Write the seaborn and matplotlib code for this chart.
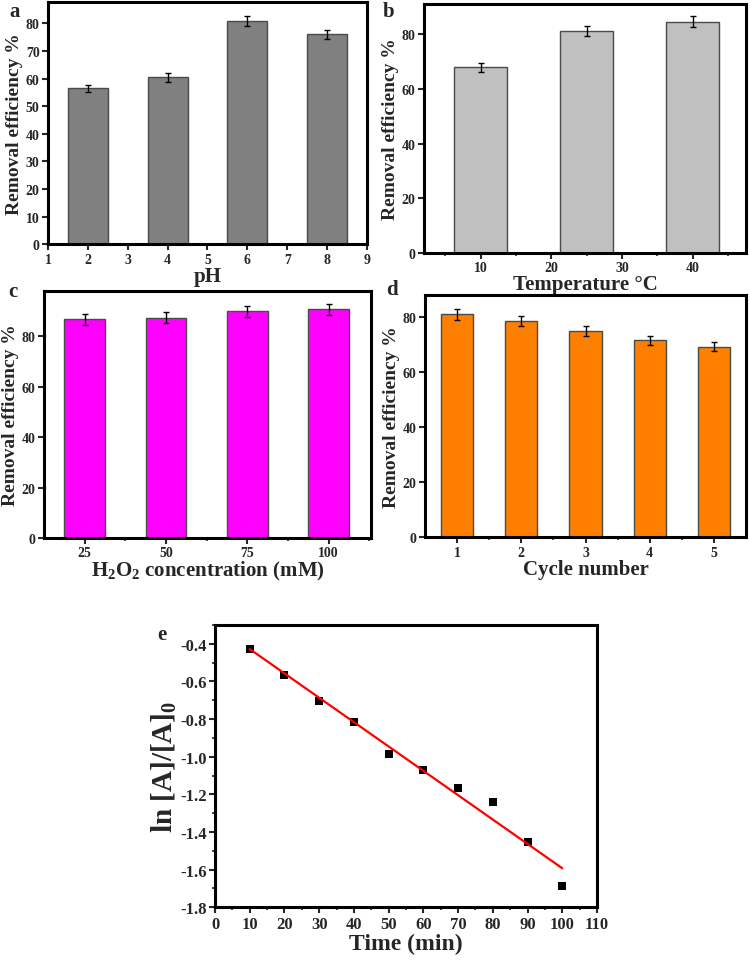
import matplotlib
matplotlib.use("Agg")
import matplotlib.pyplot as plt
import seaborn as sns
from matplotlib.ticker import MultipleLocator, FixedLocator, FormatStrFormatter

# panel a: pH
ph = [2, 4, 6, 8]
ph_eff = [56.4, 60.4, 80.9, 76.0]
ph_err = [1.4, 1.5, 1.9, 1.7]

# panel b: temperature
temp = [10, 25, 40]
temp_eff = [67.8, 81.2, 84.6]
temp_err = [1.8, 1.8, 1.9]

# panel c: H2O2 concentration
h2o2 = [25, 50, 75, 100]
h2o2_eff = [86.6, 87.3, 89.8, 90.7]
h2o2_err = [2.2, 2.2, 2.2, 2.2]

# panel d: reuse cycles
cycle = [1, 2, 3, 4, 5]
cycle_eff = [80.9, 78.5, 75.0, 71.5, 69.2]
cycle_err = [1.9, 1.8, 1.8, 1.7, 1.7]

# panel e: kinetics
time_min = [10, 20, 30, 40, 50, 60, 70, 80, 90, 100]
ln_ratio = [-0.427, -0.565, -0.702, -0.817, -0.983, -1.068, -1.164, -1.239, -1.453, -1.685]

sns.set_style("ticks")
plt.rcParams["font.family"] = ["Liberation Serif", "DejaVu Serif"]
plt.rcParams["font.weight"] = "bold"
plt.rcParams["axes.labelweight"] = "bold"
plt.rcParams["axes.unicode_minus"] = False
plt.rcParams["mathtext.fontset"] = "custom"
plt.rcParams["mathtext.rm"] = "Liberation Serif:bold"
plt.rcParams["mathtext.it"] = "Liberation Serif:bold"
plt.rcParams["mathtext.bf"] = "Liberation Serif:bold"

fig = plt.figure(figsize=(7.5, 9.62), dpi=100)

ax_a = fig.add_axes([0.064, 0.745, 0.4253, 0.2516])
ax_b = fig.add_axes([0.5653, 0.736, 0.4293, 0.2588])
ax_c = fig.add_axes([0.0587, 0.4397, 0.436, 0.2571])
ax_d = fig.add_axes([0.5667, 0.4404, 0.428, 0.2522])
ax_e = fig.add_axes([0.2867, 0.0558, 0.5093, 0.2935])


def style_axes(ax, labelsize=10):
    for s in ax.spines.values():
        s.set_visible(True)
        s.set_linewidth(2.2)
        s.set_color("black")
    ax.tick_params(which="major", direction="out", length=4, width=1.5,
                   labelsize=labelsize, top=False, right=False, pad=2)
    ax.tick_params(which="minor", direction="out", length=2.5, width=1.2,
                   top=False, right=False)
    for lab in ax.get_xticklabels() + ax.get_yticklabels():
        lab.set_fontweight("bold")


def bar_panel(ax, x, y, err, color, xlim, ylim, ystep, xmajor, xminor, xlabel):
    sns.barplot(x=x, y=y, ax=ax, native_scale=True, width=0.5, color=color,
                saturation=1, edgecolor="#4a4a4a", linewidth=1.0, errorbar=None)
    ax.errorbar(x, y, yerr=err, fmt="none", ecolor="black", elinewidth=1.0,
                capsize=2.5, capthick=1.0)
    ax.set_xlim(*xlim)
    ax.set_ylim(*ylim)
    ax.yaxis.set_major_locator(MultipleLocator(ystep))
    ax.xaxis.set_major_locator(FixedLocator(xmajor))
    ax.set_xticklabels([str(v) for v in xmajor])
    if xminor:
        ax.xaxis.set_minor_locator(FixedLocator(xminor))
    ax.set_xlabel(xlabel, fontsize=15, fontweight="bold", labelpad=0)
    ax.set_ylabel("Removal efficiency %", fontsize=14, fontweight="bold", labelpad=2)
    style_axes(ax)


bar_panel(ax_a, ph, ph_eff, ph_err, "#808080", (1, 9), (0, 87.6), 10,
          list(range(1, 10)), None, "pH")
bar_panel(ax_b, temp, temp_eff, temp_err, "#c0c0c0", (2, 47.5), (0, 91), 20,
          [10, 20, 30, 40], [5, 15, 25, 35, 45], "Temperature °C")
bar_panel(ax_c, h2o2, h2o2_eff, h2o2_err, "#ff00ff", (12.5, 113), (0, 98), 20,
          h2o2, [37.5, 62.5, 87.5, 112.5], r"H$_2$O$_2$ concentration (mM)")
bar_panel(ax_d, cycle, cycle_eff, cycle_err, "#ff8000", (0.5, 5.5), (0, 88), 20,
          cycle, [1.5, 2.5, 3.5, 4.5], "Cycle number")

# panel e
sns.regplot(x=time_min, y=ln_ratio, ax=ax_e, ci=None, marker="s",
            scatter_kws={"color": "black", "s": 32, "linewidths": 0, "alpha": 1},
            line_kws={"color": "red", "linewidth": 1.6})
ax_e.set_xlim(0, 110)
ax_e.set_ylim(-1.8, -0.3)
ax_e.xaxis.set_major_locator(MultipleLocator(10))
ax_e.xaxis.set_minor_locator(MultipleLocator(5))
ax_e.yaxis.set_major_locator(MultipleLocator(0.2))
ax_e.yaxis.set_minor_locator(MultipleLocator(0.1))
ax_e.yaxis.set_major_formatter(FormatStrFormatter("%.1f"))
ax_e.set_xlabel("Time (min)", fontsize=17, fontweight="bold", labelpad=1)
ax_e.set_ylabel(r"ln [A]/[A]$_0$", fontsize=21, fontweight="bold", labelpad=1)
style_axes(ax_e, labelsize=12)

# panel letters
for txt, (x, y) in zip("abcde", [(15, 12), (389, 12), (13, 292), (392, 290), (162, 635)]):
    fig.text(x / 750, 1 - y / 962, txt, fontsize=15, fontweight="bold",
             ha="center", va="center")

fig.savefig("out.png", dpi=100)
